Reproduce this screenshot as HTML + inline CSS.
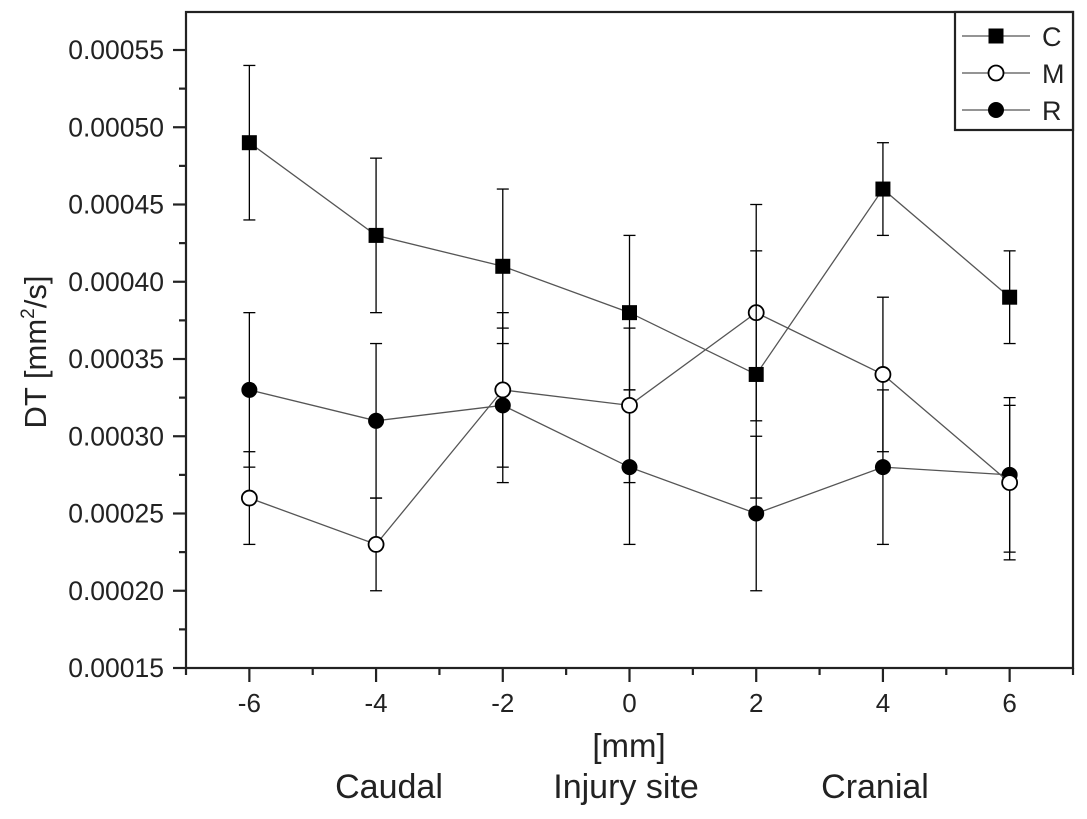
<!DOCTYPE html>
<html><head><meta charset="utf-8"><style>
body{margin:0;background:#fff}
svg{display:block;font-family:"Liberation Sans",Arial,sans-serif}
</style></head><body>
<svg id="chart" width="1087" height="819" viewBox="0 0 1087 819">
<g id="plot"></g>
</svg>
<script>
const xCats=[-6,-4,-2,0,2,4,6];
const cVals=[0.00049,0.00043,0.00041,0.00038,0.00034,0.00046,0.00039];
const cErr=[0.00005,0.00005,0.00005,0.00005,0.00008,0.00003,0.00003];
const mVals=[0.00026,0.00023,0.00033,0.00032,0.00038,0.00034,0.00027];
const mErr=[0.00003,0.00003,0.00005,0.00005,0.00007,0.00005,0.00005];
const rVals=[0.00033,0.00031,0.00032,0.00028,0.00025,0.00028,0.000275];
const rErr=[0.00005,0.00005,0.00005,0.00005,0.00005,0.00005,0.00005];
const yTicks=[0.00015,0.0002,0.00025,0.0003,0.00035,0.0004,0.00045,0.0005,0.00055];
const yTickLabels=["0.00015","0.00020","0.00025","0.00030","0.00035","0.00040","0.00045","0.00050","0.00055"];
const xTicks=[-6,-4,-2,0,2,4,6];

const L=186,R=1073,T=12,B=668;
const X=v=>L+(v+7)/14*(R-L);
const Y=v=>B-(v-0.00015)/0.00005*77.25;
const NS="http://www.w3.org/2000/svg";
const g=document.getElementById('plot');
function mk(tag,at,parent){const e=document.createElementNS(NS,tag);for(const k in at)e.setAttribute(k,at[k]);(parent||g).appendChild(e);return e;}

let e=mk('rect',{x:L,y:T,width:R-L,height:B-T,fill:'none',stroke:'#222','stroke-width':2.2});


yTicks.forEach((t,i)=>{
  const y=Y(t);
  mk('line',{x1:L-13,x2:L,y1:y,y2:y,stroke:'#222','stroke-width':2.2});
  if(i<yTicks.length-1){const ym=Y(t+0.000025);mk('line',{x1:L-7,x2:L,y1:ym,y2:ym,stroke:'#222','stroke-width':2.2});}
  const tx=mk('text',{x:L-22,y:y+9,'text-anchor':'end','font-size':26.5,fill:'#222'});
  tx.textContent=yTickLabels[i];
  
  
});
xTicks.forEach((t,i)=>{
  const x=X(t);
  mk('line',{x1:x,x2:x,y1:B,y2:B+14,stroke:'#222','stroke-width':2.2});
  const tx=mk('text',{x:x,y:B+44,'text-anchor':'middle','font-size':26,fill:'#222'});
  tx.textContent=String(t);
  
  
});
for(let v=-7;v<=7;v+=2){const x=X(v);mk('line',{x1:x,x2:x,y1:B,y2:B+7,stroke:'#222','stroke-width':2.2});}

let t1=mk('text',{x:629,y:757,'text-anchor':'middle','font-size':33,fill:'#222'});t1.textContent='[mm]';

[['Caudal',389,'caudal-label'],['Injury site',626,'injury-site-label'],['Cranial',875,'cranial-label']].forEach(a=>{
  const tt=mk('text',{x:a[1],y:798,'text-anchor':'middle','font-size':34,fill:'#222'});tt.textContent=a[0];
  
});
let yt=mk('text',{transform:'translate(46,352) rotate(-90)','text-anchor':'middle','font-size':31,fill:'#222'});
yt.innerHTML='DT [mm<tspan dy="-12" font-size="19">2</tspan><tspan dy="12">/s]</tspan>';


function marker(type,x,y,parent){
  let m;
  if(type==='sq') m=mk('rect',{x:x-7.5,y:y-7.5,width:15,height:15,fill:'#000'},parent);
  else if(type==='open') m=mk('circle',{cx:x,cy:y,r:7.5,fill:'#fff',stroke:'#000','stroke-width':1.8},parent);
  else m=mk('circle',{cx:x,cy:y,r:8,fill:'#000'},parent);
  return m;
}
function series(vals,errs,type,name){
  const sg=mk('g',{});
  
  vals.forEach((v,i)=>{
    const x=X(xCats[i]);
    mk('line',{x1:x,x2:x,y1:Y(v-errs[i]),y2:Y(v+errs[i]),stroke:'#000','stroke-width':1.3},sg);
    [v-errs[i],v+errs[i]].forEach(w=>mk('line',{x1:x-6,x2:x+6,y1:Y(w),y2:Y(w),stroke:'#000','stroke-width':1.3},sg));
  });
  mk('polyline',{points:vals.map((v,i)=>X(xCats[i])+','+Y(v)).join(' '),fill:'none',stroke:'#555','stroke-width':1.3},sg);
  vals.forEach((v,i)=>{
    const m=marker(type,X(xCats[i]),Y(v),sg);
    
    
  });
}
series(rVals,rErr,'fill','series-r');
series(mVals,mErr,'open','series-m');
series(cVals,cErr,'sq','series-c');

const lg=mk('g',{});

mk('rect',{x:955,y:T,width:R-955,height:118,fill:'#fff',stroke:'#222','stroke-width':2.2},lg);
[['C','sq',36],['M','open',73],['R','fill',110]].forEach(a=>{
  const eg=mk('g',{},lg);
  
  mk('line',{x1:962,x2:1030,y1:a[2],y2:a[2],stroke:'#555','stroke-width':1.3},eg);
  marker(a[1],996,a[2],eg);
  const tx=mk('text',{x:1042,y:a[2]+10,'font-size':27,fill:'#222'},eg);tx.textContent=a[0];
});
</script>
</body></html>
